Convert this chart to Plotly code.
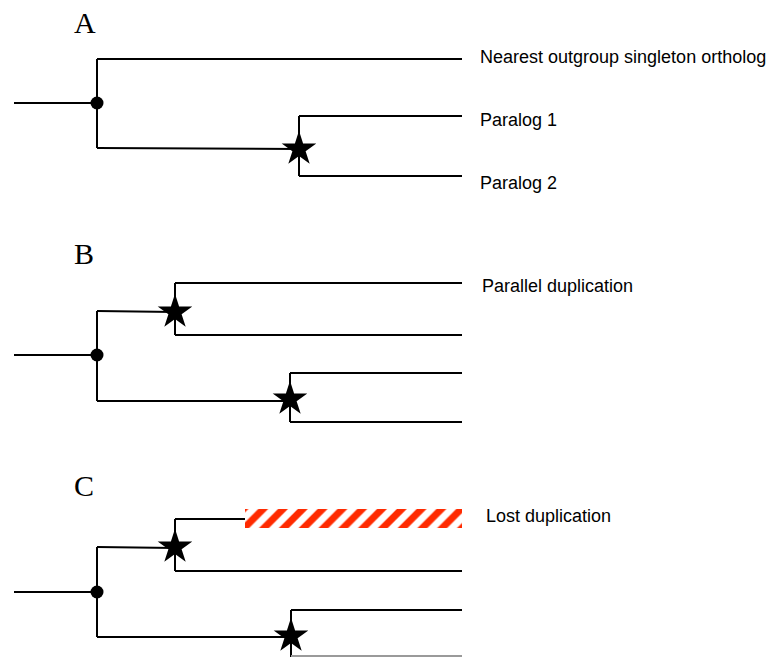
import plotly.graph_objects as go

# ---- data (pixel-space coordinates of the tree diagram) ----
panel_labels = ["A", "B", "C"]
panel_label_x = [85, 84, 84]
panel_label_y = [22, 253, 485]

# branch segments: x0, y0, x1, y1
seg_x0 = [14, 97, 97, 97, 299, 299, 299,
          14, 97, 97, 175, 175, 175, 97, 290, 290, 290,
          14, 97, 97, 175, 175, 175, 97, 291, 291]
seg_y0 = [103, 59, 59, 148, 116, 116, 176,
          355, 311, 311, 283, 283, 335, 401, 373, 373, 422,
          592, 547, 547, 519, 519, 571, 637, 610, 610]
seg_x1 = [97, 97, 462, 299, 299, 462, 462,
          97, 97, 175, 175, 462, 462, 290, 290, 462, 462,
          97, 97, 175, 175, 245, 462, 291, 291, 462]
seg_y1 = [103, 148, 59, 149, 176, 116, 176,
          355, 401, 312, 335, 283, 335, 401, 422, 373, 422,
          592, 637, 548, 571, 519, 571, 637, 657, 610]

# cut-off branch at the bottom edge
cut_x = [291, 462]
cut_y = [656, 656]

# speciation nodes (dots) and duplication nodes (stars)
dot_x = [97, 97, 97]
dot_y = [103, 355, 592]
star_x = [299, 175, 290, 175, 291]
star_y = [149, 312, 399, 547, 636]

# lost duplication (hatched bar)
lost_start = [245]
lost_len = [217]
lost_y = [518.5]

# leaf labels
leaf_text = ["Nearest outgroup singleton ortholog", "Paralog 1", "Paralog 2",
             "Parallel duplication", "Lost duplication"]
leaf_x = [478, 478, 478, 480, 484]
leaf_y = [57, 120, 183, 286, 516]

# ---- figure ----
lx, ly = [], []
for a, b, c, d in zip(seg_x0, seg_y0, seg_x1, seg_y1):
    lx += [a, c, None]
    ly += [b, d, None]

fig = go.Figure()
fig.add_trace(go.Scatter(x=lx, y=ly, mode="lines",
                         line=dict(color="black", width=2), hoverinfo="skip"))
fig.add_trace(go.Scatter(x=cut_x, y=cut_y, mode="lines",
                         line=dict(color="#9a9a9a", width=2), hoverinfo="skip"))
fig.add_trace(go.Bar(x=lost_len, base=lost_start, y=lost_y, orientation="h",
                     width=19, opacity=1,
                     marker=dict(color="white", opacity=1, line=dict(width=0),
                                 pattern=dict(shape="/", fgcolor="#ff2a00",
                                              fgopacity=1, fillmode="replace",
                                              bgcolor="white", size=14,
                                              solidity=0.5))))
fig.add_trace(go.Scatter(x=dot_x, y=dot_y, mode="markers",
                         marker=dict(symbol="circle", size=13, color="black")))
fig.add_trace(go.Scatter(x=star_x, y=star_y, mode="markers",
                         marker=dict(symbol="star", size=26, color="black")))

for t, x, y in zip(panel_labels, panel_label_x, panel_label_y):
    fig.add_annotation(x=x, y=y, text=t, showarrow=False,
                       xanchor="center", yanchor="middle", borderpad=0,
                       font=dict(family="Liberation Serif", size=30, color="black"))
for t, x, y in zip(leaf_text, leaf_x, leaf_y):
    fig.add_annotation(x=x, y=y, text=t, showarrow=False,
                       xanchor="left", yanchor="middle",
                       font=dict(family="Liberation Sans", size=18, color="black"))

fig.update_layout(width=772, height=657,
                  margin=dict(l=0, r=0, t=0, b=0, pad=0),
                  paper_bgcolor="white", plot_bgcolor="white",
                  showlegend=False, barmode="overlay", hovermode=False)
fig.update_xaxes(range=[0, 772], visible=False, fixedrange=True)
fig.update_yaxes(range=[657, 0], visible=False, fixedrange=True)

fig.write_html("out.html",
               config={"displayModeBar": False, "staticPlot": True},
               post_script="document.body.style.margin='0px';"
                           "document.body.style.overflow='hidden';")
